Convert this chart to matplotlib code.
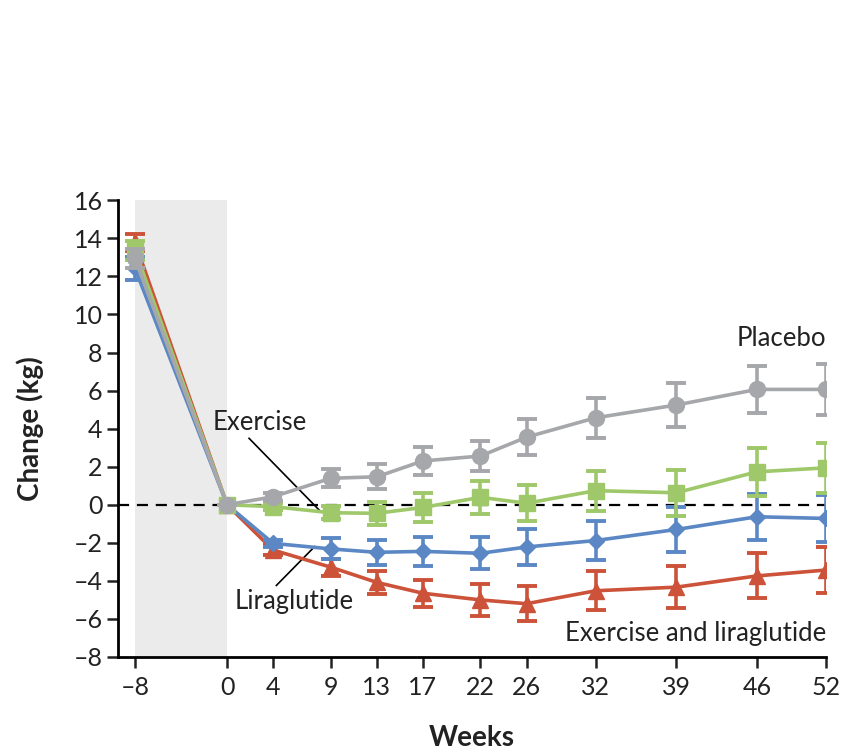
import matplotlib
matplotlib.use("Agg")
import matplotlib.pyplot as plt
import numpy as np

plt.rcParams['font.family'] = ['Lato', 'DejaVu Sans']

weeks = [-8, 0, 4, 9, 13, 17, 22, 26, 32, 39, 46, 52]

placebo = [12.95, 0, 0.42, 1.39, 1.47, 2.3, 2.56, 3.55, 4.57, 5.24, 6.06, 6.06]
placebo_err = [0.5, 0, 0.2, 0.47, 0.65, 0.75, 0.8, 0.95, 1.05, 1.15, 1.22, 1.33]

exercise = [13.38, 0, -0.1, -0.42, -0.45, -0.14, 0.39, 0.08, 0.74, 0.63, 1.73, 1.94]
exercise_err = [0.5, 0, 0.2, 0.35, 0.6, 0.75, 0.85, 0.95, 1.05, 1.2, 1.25, 1.3]

liraglutide = [12.43, 0, -2.03, -2.32, -2.5, -2.45, -2.55, -2.22, -1.88, -1.3, -0.63, -0.72]
liraglutide_err = [0.6, 0, 0.2, 0.55, 0.65, 0.75, 0.85, 0.97, 1.0, 1.2, 1.2, 1.25]

combo = [13.8, 0, -2.38, -3.28, -4.08, -4.65, -5.0, -5.2, -4.52, -4.33, -3.74, -3.43]
combo_err = [0.45, 0, 0.25, 0.45, 0.62, 0.72, 0.85, 0.92, 1.03, 1.1, 1.18, 1.22]

c_gray = '#a6a7aa'
c_green = '#9ec869'
c_blue = '#5b88c5'
c_red = '#cc5339'
c_text = '#222222'

fig = plt.figure(figsize=(8.42, 7.5), dpi=100)
ax = fig.add_axes([0.140, 0.124, 0.841, 0.609])

ax.axvspan(-8, 0, color='#ebebeb', zorder=0, lw=0)
ax.axhline(0, color='black', lw=1.6, ls=(0, (5, 3.5)), zorder=1)

common = dict(lw=2.6, capsize=7, capthick=2.8, elinewidth=2.6)
ax.errorbar(weeks, combo, yerr=combo_err, color=c_red, marker='^', ms=12, zorder=3, **common)
ax.errorbar(weeks, liraglutide, yerr=liraglutide_err, color=c_blue, marker='D', ms=8, zorder=4, **common)
ax.errorbar(weeks, exercise, yerr=exercise_err, color=c_green, marker='s', ms=11, zorder=5, **common)
ax.errorbar(weeks, placebo, yerr=placebo_err, color=c_gray, marker='o', ms=11.5, zorder=6, **common)

ax.set_xlim(-9.48, 52)
ax.set_ylim(-8, 16)
ax.set_xticks(weeks)
ax.set_xticklabels(['\u20138' if w < 0 else str(w) for w in weeks])
yt = np.arange(-8, 17, 2)
ax.set_yticks(yt)
ax.set_yticklabels([('\u2013' + str(-v)) if v < 0 else str(v) for v in yt])

for s in ['top', 'right']:
    ax.spines[s].set_visible(False)
for s in ['left', 'bottom']:
    ax.spines[s].set_linewidth(2)
ax.tick_params(axis='both', direction='out', length=8, width=1.8, labelsize=18, colors=c_text)
ax.tick_params(axis='x', pad=6)
ax.tick_params(axis='y', pad=3)

ax.set_ylabel('Change (kg)', fontsize=20, fontweight='bold', color=c_text, va='center')
ax.yaxis.set_label_coords(-0.124, 0.5)
ax.set_xlabel('Weeks', fontsize=20, fontweight='bold', color=c_text, va='center')
ax.xaxis.set_label_coords(0.5, -0.177)

# labels and leader lines
ax.text(2.8, 4.3, 'Exercise', fontsize=18.5, ha='center', va='center', color=c_text)
ax.plot([1.91, 8.0], [3.49, -0.28], color='black', lw=1.2, zorder=2)
ax.text(5.8, -5.1, 'Liraglutide', fontsize=18.5, ha='center', va='center', color=c_text)
ax.plot([4.28, 7.6], [-4.24, -2.2], color='black', lw=1.2, zorder=2)
ax.text(52, 8.75, 'Placebo', fontsize=18.5, ha='right', va='center', color=c_text)
ax.text(52, -6.75, 'Exercise and liraglutide', fontsize=18.5, ha='right', va='center', color=c_text)

fig.savefig('out.png', dpi=100)
